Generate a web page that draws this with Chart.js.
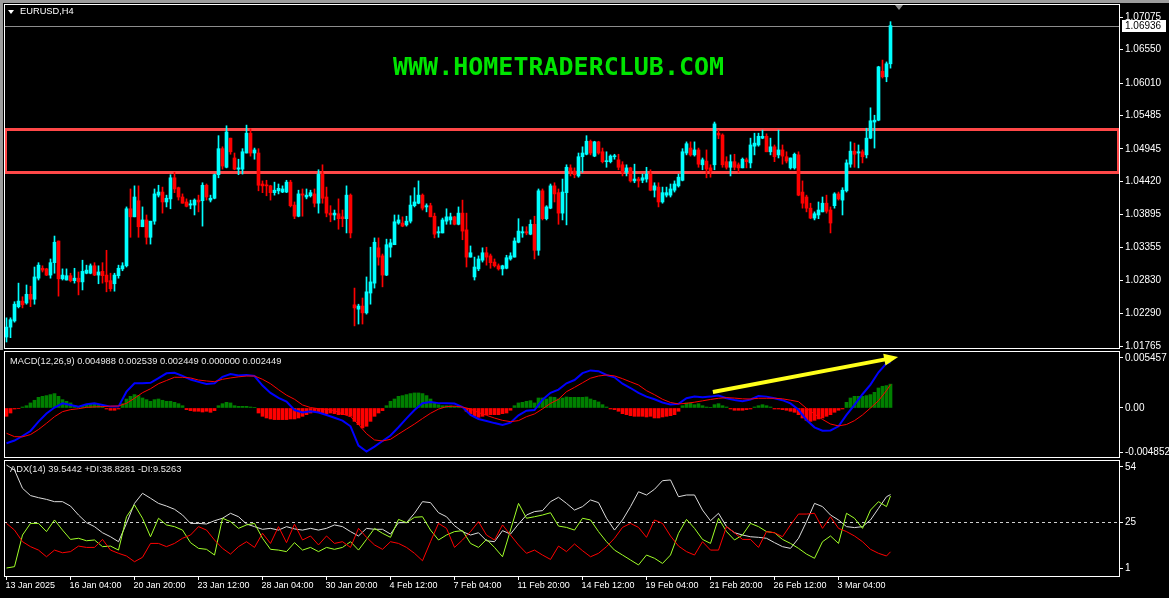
<!DOCTYPE html>
<html>
<head>
<meta charset="utf-8">
<script src="https://cdn.jsdelivr.net/npm/chart.js@4.4.0/dist/chart.umd.min.js"></script>
<style>
html, body { margin: 0; padding: 0; background: #000; }
body { position: relative; width: 1169px; height: 598px; overflow: hidden; font-family: 'Liberation Sans', Arial, sans-serif; color: #fff; }
.pane { position: absolute; left: 0; width: 1169px; }
.txt { position: absolute; white-space: nowrap; line-height: 1; }
.edge-top { position: absolute; left: 0; top: 0; width: 1169px; height: 3px; background: #9c9c9c; }
.edge-left { position: absolute; left: 0; top: 0; width: 3px; height: 350px; background: #9c9c9c; }
.tri { position: absolute; left: 8px; top: 10px; width: 0; height: 0; border-left: 3px solid transparent; border-right: 3px solid transparent; border-top: 4px solid #fff; }
</style>
</head>
<body>
<div class="edge-top"></div>
<div class="edge-left"></div>
<div class="pane" style="top:0;height:350px"><canvas id="chart-price"></canvas></div>
<div class="pane" style="top:350px;height:108px"><canvas id="chart-macd"></canvas></div>
<div class="pane" style="top:460px;height:138px"><canvas id="chart-adx"></canvas></div>

<div class="tri"></div>
<div class="txt" style="left:20px;top:7px;font-size:9.3px">EURUSD,H4</div>
<div class="txt" style="left:393px;top:54px;font-size:25px;font-weight:bold;font-family:'DejaVu Sans Mono',monospace;color:#00e400">WWW.HOMETRADERCLUB.COM</div>
<div class="txt" style="left:10px;top:357px;font-size:9.3px;color:#e8e8e8">MACD(12,26,9) 0.004988 0.002539 0.002449 0.000000 0.002449</div>
<div class="txt" style="left:10px;top:465px;font-size:9.3px;color:#e8e8e8">ADX(14) 39.5442 +DI:38.8281 -DI:9.5263</div>

<script>
// EURUSD H4 candles, oldest first
const openP = [
  1.0191,1.0207,1.0217,1.0240,1.0249,1.0246,1.0260,1.0252,1.0286,1.0302,
  1.0301,1.0291,1.0311,1.0346,1.0285,1.0283,1.0290,1.0282,1.0286,1.0280,
  1.0294,1.0294,1.0306,1.0291,1.0297,1.0291,1.0282,1.0277,1.0290,1.0301,
  1.0306,1.0398,1.0385,1.0411,1.0369,1.0380,1.0352,1.0378,1.0420,1.0425,
  1.0409,1.0414,1.0448,1.0432,1.0417,1.0409,1.0404,1.0404,1.0412,1.0411,
  1.0436,1.0412,1.0415,1.0453,1.0495,1.0465,1.0512,1.0480,1.0462,1.0462,
  1.0488,1.0520,1.0488,1.0488,1.0438,1.0436,1.0435,1.0424,1.0427,1.0425,
  1.0425,1.0441,1.0404,1.0386,1.0422,1.0417,1.0419,1.0422,1.0407,1.0454,
  1.0417,1.0391,1.0388,1.0390,1.0385,1.0382,1.0420,1.0243,1.0236,1.0241,
  1.0230,1.0262,1.0278,1.0335,1.0322,1.0291,1.0336,1.0340,1.0375,1.0375,
  1.0372,1.0378,1.0403,1.0407,1.0420,1.0401,1.0403,1.0386,1.0359,1.0359,
  1.0378,1.0380,1.0385,1.0373,1.0391,1.0364,1.0320,1.0288,1.0301,1.0315,
  1.0327,1.0322,1.0312,1.0306,1.0301,1.0302,1.0317,1.0320,1.0344,1.0359,
  1.0361,1.0357,1.0373,1.0331,1.0427,1.0382,1.0399,1.0435,1.0424,1.0391,
  1.0424,1.0464,1.0459,1.0451,1.0482,1.0486,1.0507,1.0483,1.0506,1.0490,
  1.0474,1.0474,1.0482,1.0477,1.0469,1.0457,1.0464,1.0443,1.0446,1.0444,
  1.0446,1.0454,1.0428,1.0433,1.0409,1.0420,1.0420,1.0428,1.0435,1.0444,
  1.0488,1.0496,1.0485,1.0493,1.0469,1.0475,1.0464,1.0469,1.0520,1.0517,
  1.0474,1.0465,1.0474,1.0469,1.0464,1.0477,1.0472,1.0499,1.0501,1.0512,
  1.0515,1.0490,1.0498,1.0485,1.0493,1.0482,1.0464,1.0464,1.0485,1.0425,
  1.0417,1.0399,1.0383,1.0388,1.0393,1.0407,1.0396,1.0403,1.0422,1.0412,
  1.0427,1.0470,1.0491,1.0488,1.0490,1.0485,1.0512,1.0538,1.0541,1.0620,
  1.0611,1.0632
];
const highP = [
  1.0222,1.0222,1.0248,1.0278,1.0256,1.0275,1.0273,1.0304,1.0311,1.0306,
  1.0302,1.0317,1.0354,1.0346,1.0301,1.0301,1.0294,1.0302,1.0296,1.0315,
  1.0307,1.0309,1.0311,1.0306,1.0311,1.0331,1.0294,1.0294,1.0307,1.0311,
  1.0401,1.0430,1.0435,1.0435,1.0401,1.0388,1.0378,1.0430,1.0436,1.0433,
  1.0420,1.0453,1.0457,1.0433,1.0422,1.0414,1.0412,1.0414,1.0420,1.0440,
  1.0438,1.0420,1.0454,1.0516,1.0498,1.0532,1.0512,1.0488,1.0478,1.0495,
  1.0533,1.0527,1.0496,1.0495,1.0443,1.0444,1.0436,1.0441,1.0438,1.0435,
  1.0444,1.0444,1.0409,1.0428,1.0430,1.0430,1.0428,1.0430,1.0461,1.0469,
  1.0433,1.0403,1.0396,1.0414,1.0396,1.0435,1.0422,1.0270,1.0244,1.0254,
  1.0288,1.0336,1.0351,1.0351,1.0325,1.0349,1.0349,1.0388,1.0388,1.0385,
  1.0386,1.0419,1.0432,1.0443,1.0422,1.0406,1.0407,1.0391,1.0369,1.0383,
  1.0398,1.0391,1.0386,1.0401,1.0412,1.0391,1.0338,1.0320,1.0322,1.0335,
  1.0336,1.0325,1.0317,1.0309,1.0307,1.0323,1.0327,1.0351,1.0382,1.0369,
  1.0369,1.0380,1.0386,1.0430,1.0430,1.0403,1.0438,1.0440,1.0430,1.0446,
  1.0469,1.0469,1.0464,1.0488,1.0498,1.0516,1.0509,1.0507,1.0507,1.0496,
  1.0490,1.0485,1.0486,1.0486,1.0474,1.0469,1.0465,1.0470,1.0449,1.0454,
  1.0465,1.0461,1.0440,1.0440,1.0433,1.0433,1.0438,1.0443,1.0454,1.0495,
  1.0506,1.0506,1.0506,1.0496,1.0480,1.0493,1.0469,1.0538,1.0525,1.0519,
  1.0482,1.0485,1.0486,1.0472,1.0480,1.0480,1.0512,1.0520,1.0520,1.0525,
  1.0519,1.0512,1.0501,1.0525,1.0501,1.0490,1.0480,1.0488,1.0490,1.0443,
  1.0420,1.0407,1.0393,1.0409,1.0417,1.0420,1.0401,1.0424,1.0425,1.0432,
  1.0477,1.0506,1.0504,1.0501,1.0493,1.0528,1.0561,1.0549,1.0628,1.0638,
  1.0635,1.0700
];
const lowP = [
  1.0183,1.0190,1.0215,1.0238,1.0238,1.0244,1.0240,1.0244,1.0283,1.0296,
  1.0290,1.0286,1.0294,1.0257,1.0283,1.0283,1.0280,1.0278,1.0259,1.0267,
  1.0293,1.0293,1.0290,1.0277,1.0278,1.0264,1.0265,1.0265,1.0286,1.0298,
  1.0304,1.0352,1.0385,1.0352,1.0369,1.0341,1.0341,1.0373,1.0417,1.0391,
  1.0401,1.0398,1.0424,1.0412,1.0407,1.0401,1.0398,1.0388,1.0393,1.0370,
  1.0412,1.0409,1.0414,1.0448,1.0462,1.0464,1.0486,1.0461,1.0453,1.0454,
  1.0488,1.0483,1.0478,1.0427,1.0424,1.0419,1.0412,1.0420,1.0422,1.0424,
  1.0424,1.0401,1.0382,1.0385,1.0386,1.0414,1.0417,1.0401,1.0391,1.0407,
  1.0385,1.0377,1.0380,1.0365,1.0369,1.0359,1.0351,1.0209,1.0212,1.0212,
  1.0228,1.0244,1.0270,1.0307,1.0272,1.0290,1.0320,1.0340,1.0373,1.0369,
  1.0370,1.0375,1.0401,1.0406,1.0396,1.0393,1.0385,1.0351,1.0352,1.0359,
  1.0373,1.0373,1.0372,1.0372,1.0348,1.0304,1.0320,1.0283,1.0298,1.0312,
  1.0307,1.0302,1.0304,1.0299,1.0291,1.0301,1.0315,1.0320,1.0343,1.0352,
  1.0356,1.0356,1.0317,1.0323,1.0380,1.0380,1.0398,1.0409,1.0373,1.0380,
  1.0372,1.0451,1.0448,1.0449,1.0457,1.0485,1.0485,1.0482,1.0486,1.0472,
  1.0465,1.0472,1.0478,1.0461,1.0451,1.0451,1.0441,1.0440,1.0433,1.0440,
  1.0441,1.0427,1.0417,1.0401,1.0407,1.0417,1.0417,1.0425,1.0433,1.0443,
  1.0485,1.0483,1.0483,1.0465,1.0461,1.0448,1.0449,1.0461,1.0511,1.0465,
  1.0462,1.0451,1.0461,1.0457,1.0464,1.0464,1.0464,1.0485,1.0499,1.0511,
  1.0490,1.0485,1.0474,1.0480,1.0470,1.0472,1.0462,1.0462,1.0419,1.0399,
  1.0393,1.0382,1.0380,1.0382,1.0393,1.0391,1.0359,1.0399,1.0412,1.0388,
  1.0425,1.0465,1.0465,1.0464,1.0472,1.0480,1.0511,1.0496,1.0540,1.0609,
  1.0603,1.0625
];
const closeP = [
  1.0207,1.0219,1.0244,1.0249,1.0243,1.0260,1.0252,1.0288,1.0307,1.0299,
  1.0291,1.0311,1.0344,1.0285,1.0291,1.0290,1.0282,1.0286,1.0280,1.0297,
  1.0299,1.0306,1.0291,1.0296,1.0290,1.0280,1.0269,1.0291,1.0302,1.0306,
  1.0398,1.0385,1.0417,1.0369,1.0380,1.0352,1.0378,1.0422,1.0425,1.0409,
  1.0415,1.0448,1.0430,1.0417,1.0407,1.0402,1.0406,1.0412,1.0409,1.0436,
  1.0417,1.0415,1.0453,1.0495,1.0467,1.0522,1.0490,1.0462,1.0464,1.0490,
  1.0520,1.0488,1.0493,1.0436,1.0435,1.0435,1.0424,1.0428,1.0431,1.0430,
  1.0441,1.0403,1.0386,1.0422,1.0420,1.0420,1.0424,1.0407,1.0454,1.0415,
  1.0391,1.0388,1.0391,1.0382,1.0382,1.0420,1.0359,1.0238,1.0241,1.0230,
  1.0264,1.0280,1.0344,1.0320,1.0291,1.0340,1.0343,1.0377,1.0380,1.0370,
  1.0378,1.0404,1.0409,1.0420,1.0399,1.0403,1.0385,1.0357,1.0361,1.0380,
  1.0385,1.0385,1.0373,1.0391,1.0362,1.0320,1.0327,1.0304,1.0317,1.0327,
  1.0320,1.0311,1.0306,1.0301,1.0306,1.0319,1.0322,1.0346,1.0362,1.0361,
  1.0359,1.0373,1.0331,1.0427,1.0382,1.0401,1.0435,1.0422,1.0391,1.0425,
  1.0465,1.0459,1.0453,1.0482,1.0488,1.0507,1.0488,1.0506,1.0488,1.0474,
  1.0475,1.0483,1.0483,1.0465,1.0457,1.0464,1.0443,1.0446,1.0443,1.0448,
  1.0454,1.0428,1.0435,1.0409,1.0424,1.0424,1.0430,1.0438,1.0449,1.0490,
  1.0503,1.0485,1.0493,1.0470,1.0477,1.0462,1.0459,1.0535,1.0517,1.0469,
  1.0465,1.0474,1.0465,1.0464,1.0478,1.0474,1.0501,1.0504,1.0515,1.0515,
  1.0490,1.0498,1.0482,1.0493,1.0483,1.0475,1.0480,1.0486,1.0420,1.0407,
  1.0399,1.0383,1.0390,1.0396,1.0407,1.0394,1.0375,1.0422,1.0414,1.0428,
  1.0472,1.0491,1.0486,1.0490,1.0482,1.0512,1.0540,1.0541,1.0627,1.0611,
  1.0632,1.06936
];

// MACD histogram, one value per bar
const macdHist = [
  -0.00091,-0.00055,-0.00011,-0.00004,0.00011,0.00025,0.00055,0.00084,0.00116,0.00127,
  0.00135,0.00146,0.00157,0.00127,0.00091,0.00073,0.00055,0.00025,0.00018,0.00025,
  0.00036,0.00044,0.00044,0.00036,0.00018,-0.00011,-0.00025,-0.00025,-0.00011,0.00047,
  0.00098,0.00127,0.00146,0.00135,0.00109,0.00091,0.00073,0.00091,0.00098,0.00084,
  0.00073,0.00073,0.00062,0.00047,0.00025,-0.00018,-0.00029,-0.00036,-0.00036,-0.00044,
  -0.00036,-0.00047,-0.00029,0.00025,0.00047,0.00062,0.00055,0.00025,0.00018,0.00018,
  0.00018,0.00011,0.00004,-0.00055,-0.00091,-0.00109,-0.00120,-0.00127,-0.00127,-0.00127,
  -0.00127,-0.00120,-0.00120,-0.00109,-0.00091,-0.00073,-0.00055,-0.00036,-0.00047,-0.00055,
  -0.00062,-0.00055,-0.00062,-0.00073,-0.00073,-0.00073,-0.00091,-0.00146,-0.00182,-0.00218,
  -0.00200,-0.00146,-0.00091,-0.00055,-0.00029,0.00025,0.00073,0.00098,0.00127,0.00135,
  0.00146,0.00157,0.00164,0.00164,0.00157,0.00135,0.00098,0.00062,0.00036,0.00025,
  0.00025,0.00025,0.00018,0.00011,0.00004,-0.00036,-0.00062,-0.00091,-0.00102,-0.00091,
  -0.00073,-0.00073,-0.00073,-0.00073,-0.00062,-0.00055,-0.00025,0.00025,0.00055,0.00062,
  0.00073,0.00080,0.00055,0.00109,0.00109,0.00098,0.00120,0.00116,0.00098,0.00109,
  0.00120,0.00116,0.00116,0.00116,0.00116,0.00120,0.00098,0.00084,0.00066,0.00036,
  0.00011,-0.00011,-0.00018,-0.00036,-0.00062,-0.00073,-0.00084,-0.00091,-0.00091,-0.00091,
  -0.00098,-0.00091,-0.00109,-0.00109,-0.00098,-0.00091,-0.00084,-0.00073,-0.00036,0.00025,
  0.00055,0.00055,0.00036,0.00047,0.00025,0.00011,0.00004,0.00036,0.00047,0.00025,
  0.00011,-0.00011,-0.00025,-0.00025,-0.00025,-0.00018,-0.00011,0.00011,0.00025,0.00036,
  0.00025,0.00011,-0.00011,-0.00011,-0.00018,-0.00025,-0.00036,-0.00047,-0.00073,-0.00109,
  -0.00135,-0.00146,-0.00135,-0.00120,-0.00109,-0.00091,-0.00073,-0.00047,-0.00025,-0.00011,
  0.00062,0.00109,0.00127,0.00127,0.00127,0.00135,0.00146,0.00171,0.00218,0.00237,
  0.00244,0.00260
];

// line indicators read every second bar (0,2,...,220) plus the last bar
const macdMain = [
  -0.00385,-0.00355,-0.00306,-0.00251,-0.00149,-0.00060,0.00005,0.00051,0.00033,0.00015,
  0.00040,0.00051,0.00033,0.00015,0.00015,0.00178,0.00269,0.00269,0.00275,0.00325,
  0.00378,0.00385,0.00350,0.00310,0.00285,0.00262,0.00269,0.00340,0.00371,0.00355,
  0.00360,0.00349,0.00245,0.00165,0.00110,0.00069,-0.00022,-0.00048,-0.00036,-0.00050,
  -0.00076,-0.00106,-0.00138,-0.00200,-0.00410,-0.00476,-0.00422,-0.00360,-0.00300,-0.00210,
  -0.00113,-0.00022,0.00052,0.00064,0.00053,0.00051,0.00048,0.00010,-0.00076,-0.00120,
  -0.00142,-0.00165,-0.00185,-0.00160,-0.00080,-0.00029,-0.00022,0.00090,0.00165,0.00200,
  0.00269,0.00305,0.00380,0.00410,0.00402,0.00360,0.00335,0.00265,0.00218,0.00165,
  0.00124,0.00095,0.00060,0.00038,0.00045,0.00106,0.00124,0.00118,0.00124,0.00135,
  0.00106,0.00087,0.00074,0.00093,0.00130,0.00124,0.00106,0.00085,0.00050,-0.00020,
  -0.00131,-0.00211,-0.00248,-0.00245,-0.00200,-0.00076,0.00033,0.00150,0.00255,0.00390,
  0.00488,0.00499
];
const macdSignal = [
  -0.00276,-0.00313,-0.00315,-0.00290,-0.00235,-0.00167,-0.00095,-0.00040,-0.00018,-0.00008,
  0.00007,0.00012,0.00015,0.00020,0.00022,0.00051,0.00106,0.00167,0.00210,0.00265,
  0.00300,0.00335,0.00335,0.00328,0.00305,0.00295,0.00287,0.00313,0.00328,0.00340,
  0.00349,0.00349,0.00313,0.00265,0.00200,0.00140,0.00095,0.00033,0.00005,-0.00008,
  -0.00015,-0.00029,-0.00065,-0.00095,-0.00180,-0.00280,-0.00349,-0.00360,-0.00342,-0.00285,
  -0.00230,-0.00175,-0.00115,-0.00058,-0.00012,0.00015,0.00020,0.00010,-0.00011,-0.00050,
  -0.00080,-0.00110,-0.00135,-0.00149,-0.00138,-0.00095,-0.00065,-0.00010,0.00050,0.00095,
  0.00178,0.00225,0.00275,0.00325,0.00349,0.00360,0.00350,0.00320,0.00285,0.00251,
  0.00189,0.00145,0.00095,0.00060,0.00044,0.00051,0.00063,0.00078,0.00093,0.00106,
  0.00113,0.00108,0.00100,0.00098,0.00106,0.00106,0.00106,0.00100,0.00085,0.00069,
  -0.00004,-0.00065,-0.00125,-0.00175,-0.00196,-0.00180,-0.00138,-0.00076,0.00000,0.00080,
  0.00190,0.00254
];
const adxMain = [
  55.0,52.4,42.8,39.0,37.9,37.0,35.8,35.8,33.5,28.8,
  24.8,22.7,19.5,17.4,14.8,24.4,34.9,40.2,37.6,34.9,
  33.5,31.8,28.8,24.4,24.4,24.1,25.8,27.1,29.7,27.9,
  24.1,22.7,21.3,21.8,20.9,22.7,21.5,20.9,21.8,20.9,
  21.8,23.6,22.7,20.1,17.8,21.8,21.3,21.3,18.8,24.8,
  24.8,29.7,35.8,35.3,30.0,27.9,23.2,20.1,18.3,19.5,
  15.3,14.8,20.6,18.8,24.1,28.8,30.6,31.1,35.8,38.1,
  34.9,31.4,33.2,36.7,35.3,27.1,20.9,26.2,33.2,41.0,
  39.3,42.3,46.8,47.2,38.4,39.3,39.3,31.4,25.8,29.7,
  22.7,19.5,18.3,17.4,17.1,16.6,14.3,12.2,11.3,16.6,
  25.3,34.9,33.2,28.8,26.2,22.7,22.2,22.7,26.2,32.3,
  38.4,39.5
];
const plusDI = [
  1.0,1.7,18.3,24.4,24.4,20.1,26.2,20.9,16.0,16.6,
  15.3,15.7,12.2,12.5,10.4,27.9,34.1,27.1,17.4,27.1,
  23.6,22.7,20.9,14.3,11.3,10.8,7.8,27.1,25.3,21.8,
  23.6,24.4,16.6,10.8,10.4,9.6,14.3,10.4,11.8,9.6,
  11.8,10.8,11.8,14.8,10.4,16.0,21.8,19.2,17.1,26.5,
  24.8,27.6,27.9,20.9,15.7,18.3,20.1,20.6,13.9,11.8,
  16.0,11.8,6.9,20.9,34.9,27.1,27.9,28.8,30.0,23.0,
  22.3,20.9,27.1,26.2,20.1,14.8,10.4,7.8,5.2,2.6,
  7.8,6.1,3.4,7.8,19.2,26.5,21.8,16.0,13.9,27.1,
  20.1,15.7,18.3,24.4,22.7,20.1,19.5,16.0,13.9,11.3,
  8.3,6.1,14.8,17.8,13.9,29.7,27.1,21.8,31.4,35.8,
  33.2,38.8
];
const minusDI = [
  24.4,20.9,14.8,12.2,10.4,6.9,10.4,9.0,9.6,12.5,
  11.8,11.8,16.0,10.4,8.7,7.3,4.3,6.6,13.9,13.9,
  12.2,13.9,16.6,18.3,22.7,20.9,15.7,11.3,8.3,12.2,
  14.8,11.8,19.2,13.9,22.7,14.3,24.0,15.7,17.8,13.1,
  17.8,13.9,14.8,11.8,21.8,17.1,13.1,10.8,14.8,13.9,
  11.8,8.7,4.8,14.8,24.4,21.8,11.8,15.7,20.1,25.3,
  18.3,15.7,23.6,18.3,13.1,8.7,10.4,7.8,5.5,12.5,
  9.6,13.6,10.1,6.9,8.7,12.2,16.6,22.3,24.4,22.3,
  17.1,26.2,24.4,17.8,12.5,9.6,7.8,14.8,10.4,10.4,
  22.7,19.5,16.0,16.0,11.8,20.1,19.5,17.4,23.6,29.3,
  29.3,29.7,21.8,27.9,21.8,20.1,17.8,14.8,10.8,8.7,
  7.3,9.5
];

const timeLabels = ['13 Jan 2025', '16 Jan 04:00', '20 Jan 20:00', '23 Jan 12:00', '28 Jan 04:00',
  '30 Jan 20:00', '4 Feb 12:00', '7 Feb 04:00', '11 Feb 20:00', '14 Feb 12:00',
  '19 Feb 04:00', '21 Feb 20:00', '26 Feb 12:00', '3 Mar 04:00'];
const priceTicks = [1.07075, 1.06550, 1.06010, 1.05485, 1.04945, 1.04420, 1.03895, 1.03355, 1.02830, 1.02290, 1.01765];
const macdTicks = [0.005457, 0, -0.004852];
const macdTickText = ['0.005457', '0.00', '-0.004852'];
const adxTicks = [54, 25, 1];

// drawn objects on the chart
const zoneHigh = 1.0527;
const zoneLow = 1.0457;
const arrowFrom = [176.6, 0.00175];
const arrowTo = [222.9, 0.00557];

const labelEvery = 16;
const sampleAt = [];
for (let i = 0; i <= 220; i += 2) sampleAt.push(i);
sampleAt.push(221);

const bodies = openP.map((o, i) => ({ x: i, y: [o, closeP[i]] }));
const wicks = openP.map((o, i) => ({ x: i, y: [lowP[i], highP[i]] }));
const candleColors = openP.map((o, i) => closeP[i] >= o ? '#00ffff' : '#ff0000');
const histData = macdHist.map((v, i) => ({ x: i, y: v }));
const histColors = macdHist.map(v => v >= 0 ? '#008000' : '#ff0000');
const pts = vals => vals.map((v, k) => ({ x: sampleAt[k], y: v }));

Chart.defaults.font.family = "'Liberation Sans', Arial, sans-serif";
Chart.defaults.font.size = 10;
Chart.defaults.color = '#ffffff';

const frame = {
  id: 'frame',
  afterDraw(chart) {
    const { ctx, chartArea: a } = chart;
    ctx.save();
    ctx.strokeStyle = '#ffffff';
    ctx.lineWidth = 1;
    ctx.strokeRect(a.left + 0.5, a.top + 0.5, a.width - 1, a.height - 1);
    ctx.restore();
  }
};

const priceExtras = {
  id: 'priceExtras',
  beforeDatasetsDraw(chart) {
    const { ctx, chartArea: a, scales: { y } } = chart;
    const top = Math.round(y.getPixelForValue(zoneHigh));
    const bot = Math.round(y.getPixelForValue(zoneLow));
    ctx.save();
    ctx.strokeStyle = '#ff4848';
    ctx.lineWidth = 3;
    ctx.strokeRect(a.left + 1.5, top + 0.5, a.width - 3, bot - top);
    const py = Math.round(y.getPixelForValue(closeP[closeP.length - 1])) + 0.5;
    ctx.strokeStyle = '#8c8c8c';
    ctx.lineWidth = 1;
    ctx.beginPath();
    ctx.moveTo(a.left, py);
    ctx.lineTo(a.right, py);
    ctx.stroke();
    ctx.restore();
  },
  afterDraw(chart) {
    const { ctx, chartArea: a, scales: { x, y } } = chart;
    const last = closeP[closeP.length - 1];
    const py = Math.round(y.getPixelForValue(last));
    ctx.save();
    ctx.fillStyle = '#ffffff';
    ctx.fillRect(a.right + 2, py - 6, 44, 12);
    ctx.fillStyle = '#000000';
    ctx.font = "10px 'Liberation Sans', Arial, sans-serif";
    ctx.textBaseline = 'middle';
    ctx.fillText(last.toFixed(5), a.right + 5, py + 0.5);
    // chart shift marker
    const sx = Math.round(x.getPixelForValue(closeP.length + 1));
    ctx.fillStyle = '#8c8c8c';
    ctx.beginPath();
    ctx.moveTo(sx - 4, a.top + 1);
    ctx.lineTo(sx + 4, a.top + 1);
    ctx.lineTo(sx, a.top + 6);
    ctx.closePath();
    ctx.fill();
    ctx.restore();
  }
};

const macdArrow = {
  id: 'macdArrow',
  afterDatasetsDraw(chart) {
    const { ctx, scales: { x, y } } = chart;
    const x0 = x.getPixelForValue(arrowFrom[0]), y0 = y.getPixelForValue(arrowFrom[1]);
    const x1 = x.getPixelForValue(arrowTo[0]), y1 = y.getPixelForValue(arrowTo[1]);
    const ang = Math.atan2(y1 - y0, x1 - x0);
    const c = Math.cos(ang), s = Math.sin(ang);
    const bx = x1 - 14 * c, by = y1 - 14 * s;
    ctx.save();
    ctx.strokeStyle = '#ffff1a';
    ctx.fillStyle = '#ffff1a';
    ctx.lineWidth = 4;
    ctx.beginPath();
    ctx.moveTo(x0, y0);
    ctx.lineTo(bx + c, by + s);
    ctx.stroke();
    ctx.beginPath();
    ctx.moveTo(x1, y1);
    ctx.lineTo(bx + 6 * s, by - 6 * c);
    ctx.lineTo(bx - 6 * s, by + 6 * c);
    ctx.closePath();
    ctx.fill();
    ctx.restore();
  }
};

const adxLevel = {
  id: 'adxLevel',
  beforeDatasetsDraw(chart) {
    const { ctx, chartArea: a, scales: { y } } = chart;
    const ly = Math.round(y.getPixelForValue(25)) + 0.5;
    ctx.save();
    ctx.strokeStyle = '#d0d0d0';
    ctx.lineWidth = 1;
    ctx.setLineDash([3, 3]);
    ctx.beginPath();
    ctx.moveTo(a.left, ly);
    ctx.lineTo(a.right, ly);
    ctx.stroke();
    ctx.restore();
  }
};

function hiddenX() {
  return { type: 'linear', min: -0.625, max: 278.375, offset: false, display: false };
}

function rightAxis(min, max, ticks, fmt) {
  return {
    position: 'right',
    min: min,
    max: max,
    afterBuildTicks: s => { s.ticks = ticks.map(v => ({ value: v })); },
    afterFit: s => { s.width = 49; s.paddingTop = 0; s.paddingBottom = 0; },
    ticks: { color: '#ffffff', padding: 2, callback: fmt },
    grid: { display: true, drawOnChartArea: false, drawTicks: true, tickLength: 3, color: '#ffffff' },
    border: { display: false }
  };
}

const common = {
  animation: false,
  responsive: true,
  maintainAspectRatio: false,
  events: [],
  plugins: { legend: { display: false }, tooltip: { enabled: false } }
};

const chartPrice = new Chart(document.getElementById('chart-price'), {
  type: 'bar',
  data: {
    datasets: [
      { label: 'body', data: bodies, backgroundColor: candleColors, barThickness: 3, minBarLength: 1, grouped: false, order: 1 },
      { label: 'wick', data: wicks, backgroundColor: candleColors, barThickness: 1, minBarLength: 1, grouped: false, order: 2 }
    ]
  },
  options: {
    ...common,
    layout: { padding: { top: 4, bottom: 1, left: 4, right: 0 } },
    scales: {
      x: hiddenX(),
      y: rightAxis(1.01717, 1.07285, priceTicks, v => v.toFixed(5))
    }
  },
  plugins: [priceExtras, frame]
});

const chartMacd = new Chart(document.getElementById('chart-macd'), {
  type: 'bar',
  data: {
    datasets: [
      { type: 'line', label: 'Signal', data: pts(macdSignal), borderColor: '#ff0000', borderWidth: 1, pointRadius: 0, order: 1 },
      { type: 'line', label: 'MACD', data: pts(macdMain), borderColor: '#0000ff', borderWidth: 2, pointRadius: 0, order: 2 },
      { label: 'OsMA', data: histData, backgroundColor: histColors, barThickness: 3, grouped: false, order: 3 }
    ]
  },
  options: {
    ...common,
    layout: { padding: { top: 1, bottom: 0, left: 4, right: 0 } },
    scales: {
      x: hiddenX(),
      y: rightAxis(-0.00546, 0.00622, macdTicks, (v, i) => macdTickText[i])
    }
  },
  plugins: [macdArrow, frame]
});

const chartAdx = new Chart(document.getElementById('chart-adx'), {
  type: 'line',
  data: {
    datasets: [
      { label: '-DI', data: pts(minusDI), borderColor: '#ff0000', borderWidth: 1, pointRadius: 0, order: 1 },
      { label: '+DI', data: pts(plusDI), borderColor: '#a0ff28', borderWidth: 1, pointRadius: 0, order: 2 },
      { label: 'ADX', data: pts(adxMain), borderColor: '#dcdcdc', borderWidth: 1, pointRadius: 0, order: 3 }
    ]
  },
  options: {
    ...common,
    layout: { padding: { top: 0, bottom: 0, left: 4, right: 0 } },
    scales: {
      x: {
        type: 'linear', min: -0.625, max: 278.375, offset: false,
        afterBuildTicks: s => { s.ticks = timeLabels.map((t, k) => ({ value: k * labelEvery })); },
        afterFit: s => { s.height = 21; s.paddingLeft = 0; s.paddingRight = 0; },
        ticks: { autoSkip: false, maxRotation: 0, align: 'start', labelOffset: -1, padding: 0, color: '#ffffff', font: { size: 9 }, callback: (v, k) => timeLabels[k] },
        grid: { display: true, drawOnChartArea: false, drawTicks: true, tickLength: 3, color: '#ffffff' },
        border: { display: false }
      },
      y: rightAxis(-3.72, 57.66, adxTicks, v => String(v))
    }
  },
  plugins: [adxLevel, frame]
});
</script>
</body>
</html>
